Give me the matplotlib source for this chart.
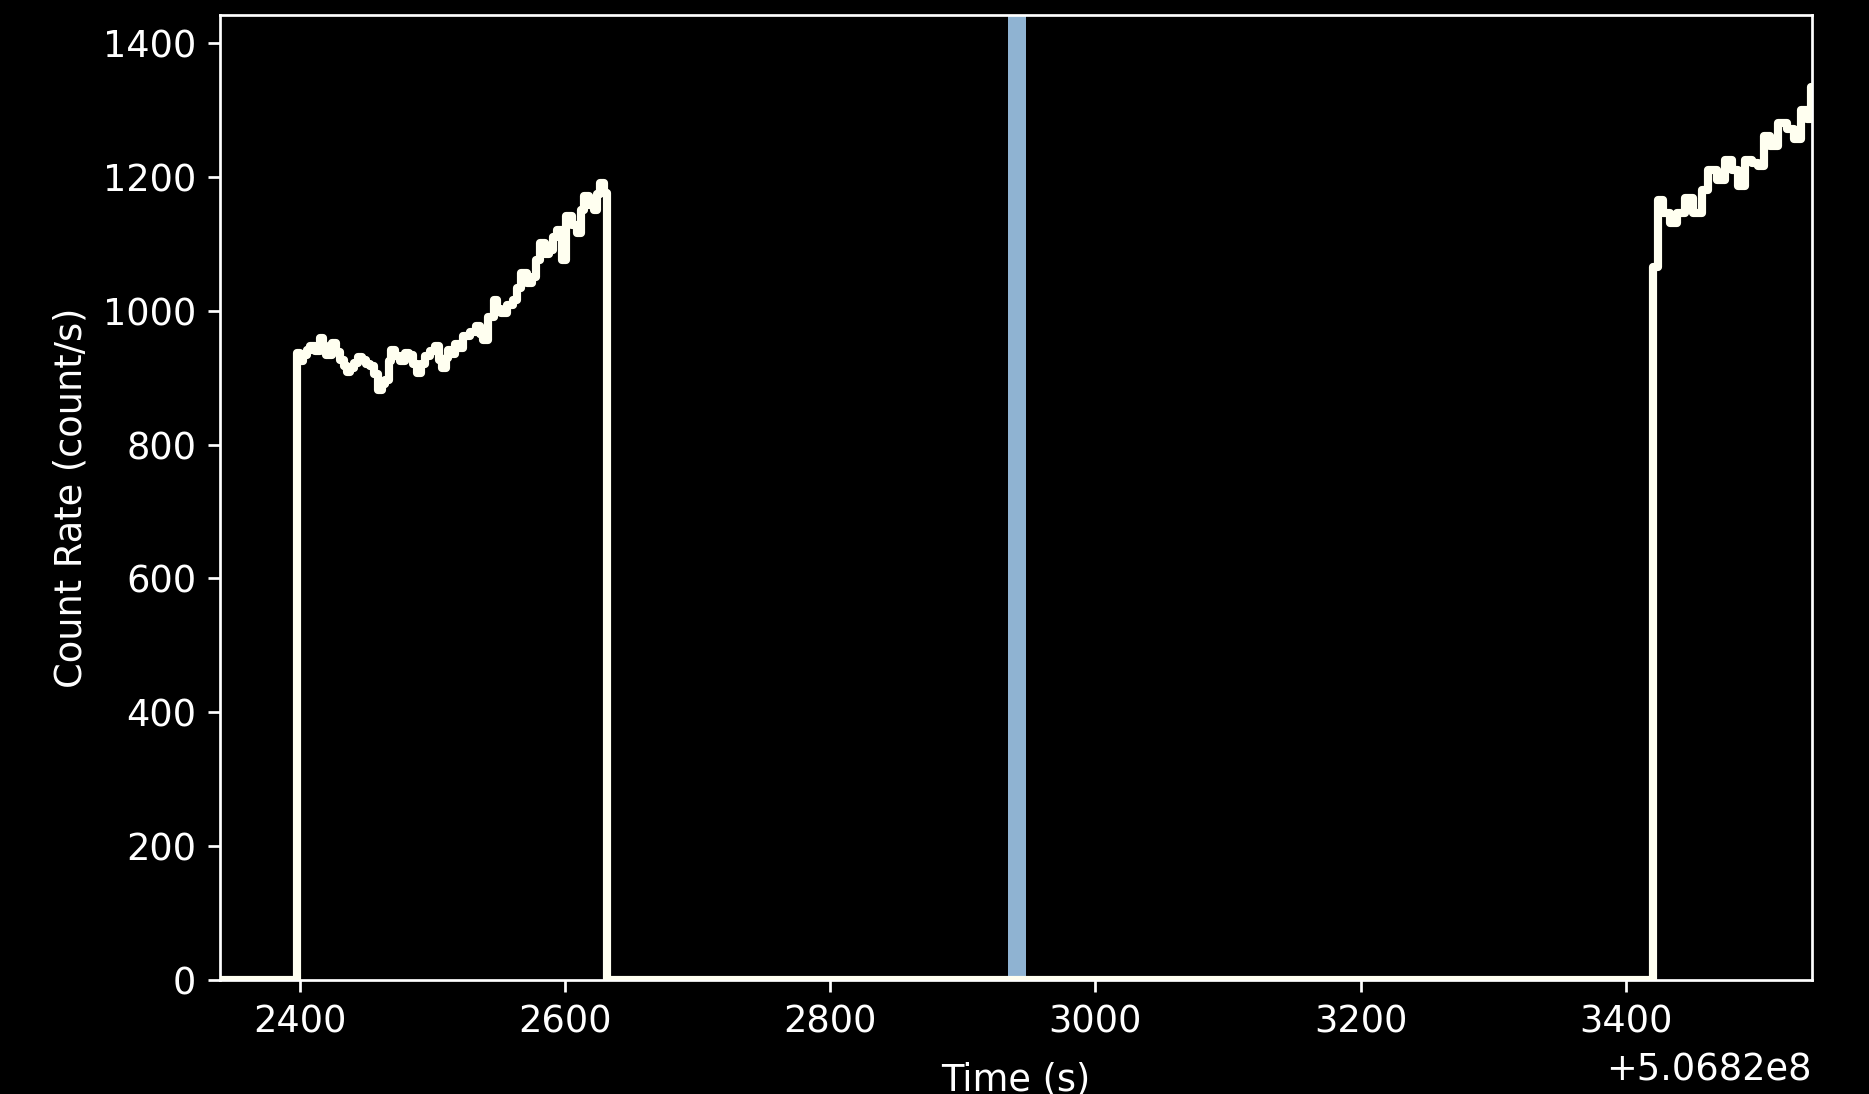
import numpy as np
import matplotlib
matplotlib.use("Agg")
import matplotlib.pyplot as plt

# ─────────────────────────────────────────────────────────────────────────────
# DATA  (light curve, times relative to T0)
# ─────────────────────────────────────────────────────────────────────────────

T0 = 5.0682e8
T_START, T_END = 2339.7, 3540.5

# first good-time interval
seg1_t = [2397.5, 2400, 2402.5, 2405, 2407.5, 2411, 2415, 2417.5, 2420, 2424,
          2427, 2430, 2433, 2435.5, 2438, 2440.5, 2444, 2447, 2450, 2453,
          2456, 2459, 2462, 2464, 2467, 2469, 2472, 2475.5, 2479, 2482,
          2485, 2488, 2491, 2494, 2498, 2502, 2505, 2507, 2510, 2512,
          2515, 2517, 2520, 2523, 2528, 2533, 2536, 2538, 2542, 2546,
          2549, 2552, 2556, 2561, 2564, 2567, 2571, 2575, 2578, 2581,
          2585, 2588, 2591, 2594, 2597.5, 2601, 2605, 2609, 2612, 2614,
          2618, 2622, 2624, 2626, 2629]
seg1_rate = [937, 925, 934, 941, 947, 940, 959, 948, 934, 952,
             938, 927, 918, 909, 915, 922, 931, 927, 921, 917,
             905, 882, 890, 897, 925, 942, 933, 925, 937, 934,
             920, 907, 921, 932, 940, 947, 926, 914, 930, 942,
             936, 950, 944, 962, 968, 977, 966, 956, 990, 1016,
             1003, 996, 1008, 1016, 1034, 1056, 1042, 1051, 1076, 1101,
             1085, 1091, 1110, 1121, 1076, 1141, 1128, 1116, 1150, 1171,
             1158, 1151, 1175, 1191, 1176]
seg1_stop = 2631.3

# second good-time interval
seg2_t = [3420.6, 3424.6, 3428.4, 3433.4, 3438.5, 3444.8, 3451, 3457.4,
          3462.4, 3468.6, 3474.9, 3480, 3485, 3490, 3495, 3500, 3504,
          3509, 3515, 3522, 3527, 3532, 3537, 3539.5]
seg2_rate = [1066, 1166, 1146, 1131, 1146, 1168, 1146, 1181,
             1211, 1196, 1226, 1211, 1186, 1226, 1221, 1216, 1261,
             1246, 1281, 1271, 1256, 1300, 1286, 1335]

# highlighted interval
span_t = (2934.0, 2947.5)


# ─────────────────────────────────────────────────────────────────────────────
# BUILD STEP CURVE (zeros in the gaps)
# ─────────────────────────────────────────────────────────────────────────────

t = [T_START] + seg1_t + [seg1_stop] + seg2_t + [T_END]
r = [0] + seg1_rate + [0] + seg2_rate + [seg2_rate[-1]]
t = np.array(t) + T0
r = np.array(r, dtype=float)


# ─────────────────────────────────────────────────────────────────────────────
# PLOT
# ─────────────────────────────────────────────────────────────────────────────

plt.style.use("dark_background")
plt.rcParams["font.size"] = 10.8
DPI = 245
fig = plt.figure(figsize=(1869 / DPI, 1094 / DPI), dpi=DPI)
ax = fig.add_axes([220 / 1869, 1 - 980 / 1094, (1812 - 220) / 1869, (980 - 15) / 1094])

ax.step(t, r, where="post", color="ivory", lw=2.4, zorder=3)
ax.axvspan(T0 + span_t[0], T0 + span_t[1], color="#8fb3d2", lw=0, zorder=2)

ax.set_xlim(T0 + T_START, T0 + T_END)
ax.set_ylim(0, 1442)
ax.set_xlabel("Time (s)", labelpad=6)
ax.set_ylabel("Count Rate (count/s)")

fig.savefig("out.png", dpi=DPI, facecolor="black")
plt.close(fig)
